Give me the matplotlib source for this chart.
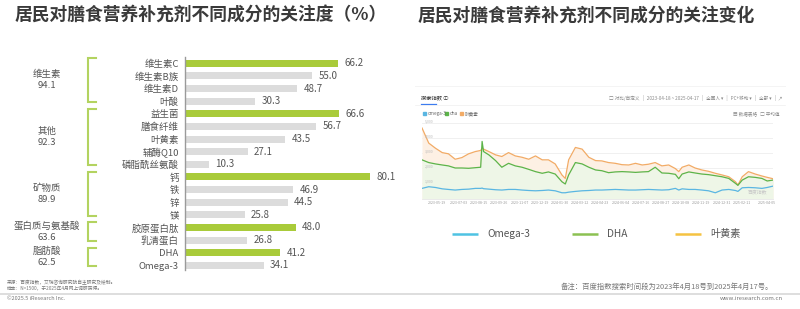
import matplotlib
matplotlib.use("Agg")
import matplotlib.pyplot as plt
import pandas as pd

plt.rcParams['font.family'] = ['Noto Sans CJK SC', 'DejaVu Sans']

# ---------------- data: left bar chart ----------------
categories = ["维生素C", "维生素B族", "维生素D", "叶酸",
              "益生菌", "膳食纤维", "叶黄素", "辅酶Q10", "磷脂酰丝氨酸",
              "钙", "铁", "锌", "镁",
              "胶原蛋白肽", "乳清蛋白",
              "DHA", "Omega-3"]
values = [66.2, 55.0, 48.7, 30.3,
          66.6, 56.7, 43.5, 27.1, 10.3,
          80.1, 46.9, 44.5, 25.8,
          48.0, 26.8,
          41.2, 34.1]
group_names = ["维生素", "其他", "矿物质", "蛋白质与氨基酸", "脂肪酸"]
group_values = [94.1, 92.3, 89.9, 63.6, 62.5]
group_sizes = [4, 5, 4, 2, 2]

# ---------------- data: right trend chart (Baidu index) ----------------
start_date = "2023-04-18"
day_offsets = [0, 14, 28, 42, 55, 69, 83, 97, 111, 122, 125, 128, 139, 153, 166, 180, 194, 208,
               222, 236, 250, 263, 277, 291, 298, 305, 319, 333, 347, 361, 374, 388, 402, 416,
               430, 444, 458, 471, 485, 499, 513, 527, 534, 541, 555, 568, 582, 596, 610, 624,
               638, 652, 657, 666, 679, 693, 707, 718, 730]
lutein = [4670, 3670, 3330, 3040, 2960, 2600, 2710, 2960, 3110, 3180, 3330, 3270, 3110, 2890,
          2780, 3040, 2820, 2730, 2600, 2820, 2560, 2560, 2290, 1560, 1330, 2560, 3380, 3270,
          2730, 2510, 2490, 2380, 2330, 2240, 2220, 2330, 2220, 2270, 2380, 2160, 2220, 1980,
          1780, 2070, 2220, 2020, 1890, 1800, 1670, 1560, 1440, 1110, 890, 1440, 1780, 1620,
          1490, 1400, 1310]
dha = [2560, 2380, 2290, 2220, 2160, 2020, 2020, 2000, 2040, 2070, 3780, 3110, 2890, 2510,
       2070, 2330, 2160, 2070, 1930, 1780, 1670, 1760, 1620, 1110, 960, 1560, 2380, 2290,
       2070, 1890, 1840, 1710, 1760, 1780, 1760, 1730, 1760, 1780, 2070, 1690, 1670, 1600,
       1310, 1620, 1760, 1690, 1620, 1580, 1510, 1440, 1330, 1000, 870, 1220, 1440, 1400,
       1330, 1160, 1220]
omega3 = [670, 780, 730, 640, 600, 560, 600, 620, 670, 670, 690, 650, 620, 580, 560, 600,
          600, 560, 530, 510, 530, 560, 510, 380, 380, 420, 470, 510, 530, 560, 560, 580,
          600, 580, 560, 560, 580, 600, 580, 560, 580, 670, 560, 640, 600, 600, 560, 510,
          380, 560, 600, 530, 470, 710, 730, 710, 670, 730, 820]
y_ticks = [1000, 2000, 3000, 4000, 5000]
x_tick_labels = ["2023-05-19", "2023-07-03", "2023-08-15", "2023-09-26", "2023-11-07",
                 "2023-12-19", "2024-01-30", "2024-03-12", "2024-04-23", "2024-06-04",
                 "2024-07-16", "2024-08-27", "2024-10-08", "2024-11-19", "2024-12-31",
                 "2025-02-11", "2025-04-05"]
legend_labels = ["Omega-3", "DHA", "叶黄素"]

# ---------------- figure ----------------
W, H = 800, 309
fig = plt.figure(figsize=(W / 100, H / 100), dpi=100)
fig.patch.set_facecolor("white")


def fx(x):
    return x / W


def fy(y):
    return 1 - y / H


def T(x, y, s, **kw):
    kw.setdefault("va", "center")
    return fig.text(fx(x), fy(y), s, **kw)


def HL(x0, x1, y, **kw):
    fig.add_artist(plt.Line2D([fx(x0), fx(x1)], [fy(y), fy(y)], transform=fig.transFigure, **kw))


TITLE_C = "#3a3a3a"
T(15, 16, "居民对膳食营养补充剂不同成分的关注度（%）", fontsize=12.8, fontweight="bold", color=TITLE_C)
T(418, 16, "居民对膳食营养补充剂不同成分的关注变化", fontsize=12.8, fontweight="bold", color=TITLE_C)

# ---------------- left bar chart ----------------
GREEN = "#a9cb3a"
GRAY = "#dcdcdc"
BRACKET = "#b3d360"
ax = fig.add_axes([fx(185), fy(270), fx(231), (270 - 57) / H])
n = len(categories)
colors = []
for size in group_sizes:
    colors += [GREEN] + [GRAY] * (size - 1)
ypos = list(range(n))
ax.barh(ypos, values, height=0.55, color=colors, left=0)
ax.set_xlim(0, 100)
ax.set_ylim(n - 1 + 0.37, -0.5)
ax.set_yticks(ypos)
ax.set_yticklabels(categories, fontsize=6.8, color="#555555")
ax.tick_params(axis="y", length=0, pad=4.5)
ax.set_xticks([])
for s in ["top", "right", "bottom"]:
    ax.spines[s].set_visible(False)
ax.spines["left"].set_color("#9a9a9a")
ax.spines["left"].set_linewidth(1.0)
ax.patch.set_alpha(0)
for i, v in enumerate(values):
    ax.annotate(f"{v:.1f}", (v, i), xytext=(4.5, 0), textcoords="offset points",
                va="center", ha="left", fontsize=7, color="#555555")

# brackets and group labels
px_per_unit = 231 / 100
bx = (87.5 - 185) / px_per_unit
btip = (95.5 - 185) / px_per_unit
lx = (47 - 185) / px_per_unit
start = 0
for name, gv, size in zip(group_names, group_values, group_sizes):
    top = start - 0.4
    bot = start + size - 1 + 0.08
    ax.plot([btip, bx, bx, btip], [top, top, bot, bot], color=BRACKET, lw=1.5,
            clip_on=False, solid_joinstyle="miter")
    mid = (top + bot) / 2
    ax.text(lx, mid - 0.45, name, ha="center", va="center", fontsize=6.8, color="#555555")
    ax.text(lx, mid + 0.45, f"{gv:.1f}", ha="center", va="center", fontsize=6.8, color="#555555")
    start += size

# ---------------- right trend chart ----------------
dates = pd.to_datetime(start_date) + pd.to_timedelta(day_offsets, unit="D")
axr = fig.add_axes([fx(422), fy(198.5), fx(773 - 422), (198.5 - 123) / H])
axr.fill_between(dates, lutein, 0, color="#fdf0e4", lw=0)
axr.fill_between(dates, dha, 0, color="#eef6e7", lw=0)
axr.plot(dates, lutein, color="#f2ab66", lw=0.9)
axr.plot(dates, dha, color="#5cb449", lw=0.9)
axr.plot(dates, omega3, color="#5ab6e2", lw=0.9)
axr.set_xlim(dates[0], dates[-1])
axr.set_ylim(0, 5000)
axr.set_yticks(y_ticks)
axr.set_yticklabels([])
axr.tick_params(length=0)
axr.grid(axis="y", color="#eeeeee", lw=0.6)
axr.set_axisbelow(True)
xt = pd.to_datetime(x_tick_labels)
axr.set_xticks(xt)
axr.set_xticklabels(x_tick_labels, fontsize=2.6, color="#999999")
axr.tick_params(axis="x", pad=2)
for s in ["top", "right", "left"]:
    axr.spines[s].set_visible(False)
axr.spines["bottom"].set_color("#e6e6e6")
axr.spines["bottom"].set_linewidth(0.6)
for yt in y_ticks:
    axr.text(0.008, yt, f"{yt:,}", transform=axr.get_yaxis_transform(), fontsize=2.6,
             color="#bbbbbb", va="bottom", ha="left")
axr.text(0.985, 0.05, "百度指数", transform=axr.transAxes, fontsize=3.5, color="#c8c8c8",
         ha="right", va="bottom")

# card header (screenshot chrome)
HL(415, 785, 86, color="#f2f2f2", lw=0.6)
T(421, 98, "搜索指数 ⓘ", fontsize=3.8, color="#333333")
HL(421, 436, 104, color="#3c7cf0", lw=0.9)
HL(415, 785, 105, color="#efefef", lw=0.5)
T(609, 98, "□ 对比/自定义   |   2023-04-18 ~ 2025-04-17   |   全国人 ▾   |   PC+移动 ▾   |   全部 ▾   |  ↗",
  fontsize=3.3, color="#888888")
leg_small = [("#5ab6e2", "omega-3", 423), ("#5cb449", "dha", 445), ("#f2ab66", "叶黄素", 460)]
for c, lab, x0 in leg_small:
    fig.add_artist(plt.Rectangle((fx(x0), fy(115)), fx(3), 3 / H, color=c, transform=fig.transFigure))
    T(x0 + 4.5, 113.5, lab, fontsize=3.3, color="#666666")
T(733, 113.5, "▤ 数据表格   □ 平均值", fontsize=3.3, color="#888888")

# bottom legend
leg_colors = ["#4fc3e3", "#8cc152", "#f5c342"]
leg_x = [452, 572, 675]
for c, lab, x0 in zip(leg_colors, legend_labels, leg_x):
    HL(x0, x0 + 25.5, 234, color=c, lw=1.8, solid_capstyle="butt")
    T(x0 + 35, 234, lab, fontsize=7.3, color="#555555")

# ---------------- footer ----------------
T(7, 282.5, "来源：百度指数，艾瑞咨询研究院自主研究及绘制。", fontsize=3.4, color="#777777")
T(7, 288.3, "样本：N=1500，于2025年4月网上调研获得。", fontsize=3.4, color="#777777")
T(773, 287, "备注：百度指数搜索时间段为2023年4月18号到2025年4月17号。", fontsize=5.3,
  color="#777777", ha="right")
HL(0, 800, 293.8, color="#d8d8d8", lw=1.2)
T(7, 298, "©2025.5 iResearch Inc.", fontsize=4, color="#777777")
T(783, 299, "www.iresearch.com.cn", fontsize=4.3, color="#777777", ha="right")

fig.savefig("out.png", dpi=100, facecolor="white")
